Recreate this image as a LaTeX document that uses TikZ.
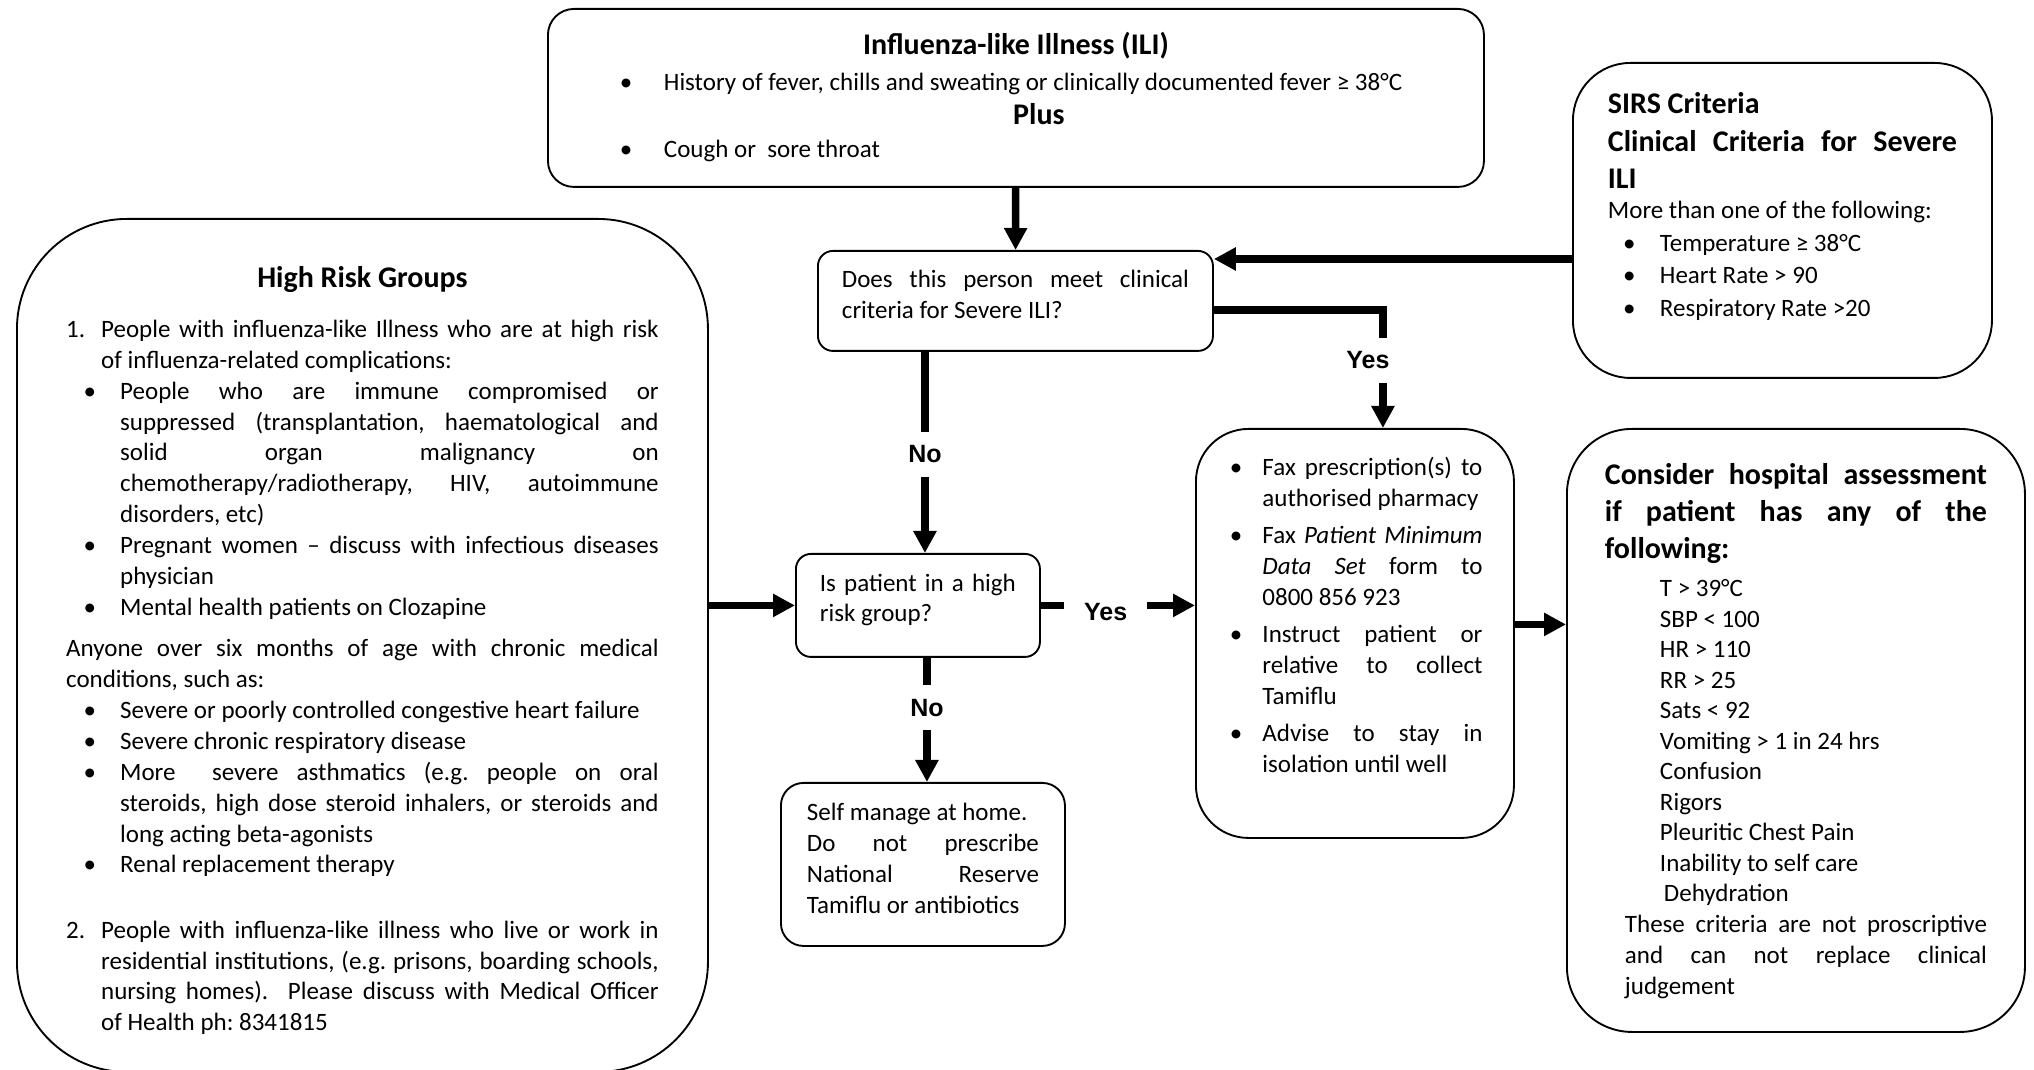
\documentclass[tikz,border=0pt]{standalone}
\usepackage{fontspec}
\setmainfont{Carlito}
\newfontfamily\answerfont{Liberation Sans}
\usetikzlibrary{positioning, arrows.meta}
\setlength{\parskip}{0pt}
\hyphenpenalty=10000
\exhyphenpenalty=10000
\tolerance=10000
\frenchspacing

% bullet list: #1 = text indent, #2 = bullet to text
\newenvironment{dotlist}[2]{%
\begin{list}{\textbullet}{\setlength{\leftmargin}{#1}\setlength{\labelsep}{#2}%
\setlength{\labelwidth}{0pt}\setlength{\itemindent}{0pt}\setlength{\itemsep}{0pt}%
\setlength{\parsep}{0pt}\setlength{\topsep}{0pt}\setlength{\partopsep}{0pt}%
\renewcommand{\makelabel}[1]{\makebox[0pt][l]{##1}}}}%
{\end{list}}
\newcommand{\boxtext}[3]{\parbox[c][#2][t]{#1}{#3}} % text block inside a box
\newcommand{\headfont}{\bfseries\fontsize{12}{14.8}\selectfont}

\tikzset{x=0.4pt, y=-0.4pt, % one unit is one pixel of the sketch
flowbox/.style={ % rounded boxes
draw, line width=0.75pt, inner sep=0pt, anchor=north west,
font=\fontsize{10}{12.2}\selectfont},
flowarrow/.style={ % thick connectors with solid heads
line width=3pt, -{Triangle[width=8.8pt, length=8.8pt]}},
answer/.style={ % Yes / No on the connectors
fill=white, inner xsep=8pt, inner ysep=5.6pt,
font=\answerfont\bfseries\fontsize{10}{12}\selectfont}}

\begin{document}
\begin{tikzpicture}
    \useasboundingbox (0,0) rectangle (2034,1070);

    \node[flowbox, rounded corners=10.4pt, minimum width=374.4pt, minimum height=71.2pt] (ili) at (547,8) {\boxtext{326.4pt}{55.2pt}{%
        {\centering\headfont\rule{0pt}{10.4pt}Influenza-like Illness (ILI)\par}
        {\fontsize{10}{14.4}\selectfont\begin{dotlist}{22.4pt}{17.6pt}
        \item History of fever, chills and sweating or clinically documented fever ≥ 38°C
        \end{dotlist}}
        {\centering\bfseries\fontsize{12}{13.6}\selectfont\hspace*{18.4pt}Plus\par}
        {\fontsize{10}{13.2}\selectfont\begin{dotlist}{22.4pt}{17.6pt}
        \item Cough or\ \ sore throat
        \end{dotlist}}}};

    \node[flowbox, rounded corners=23pt, minimum width=167.6pt, minimum height=126pt] (sirs) at (1572,62) {\boxtext{139.6pt}{110pt}{%
        {\bfseries\fontsize{12}{15}\selectfont\rule{0pt}{12.4pt}SIRS Criteria\par Clinical Criteria for Severe\linebreak ILI\par}
        {\fontsize{10}{12}\selectfont More than one of the following:\par}
        {\fontsize{10}{13}\selectfont\begin{dotlist}{20.8pt}{14.7pt}
        \item Temperature ≥ 38°C
        \item Heart Rate > 90
        \item Respiratory Rate >20
        \end{dotlist}}}};

    \node[flowbox, rounded corners=44pt, minimum width=276.4pt, minimum height=341.2pt] (high) at (16,218) {\boxtext{237pt}{325.2pt}{%
        \fontsize{10}{12.35}\selectfont
        {\centering\headfont\rule{0pt}{19.6pt}High Risk Groups\par}
        \vspace{7.45pt}
        \begin{dotlist}{14pt}{14pt}
        \item[1.] People with influenza-like Illness who are at high risk\linebreak of influenza-related complications:
        \end{dotlist}
        \begin{dotlist}{21.6pt}{14.6pt}
        \item People who are immune compromised or\linebreak suppressed (transplantation, haematological and\linebreak solid organ malignancy on\linebreak chemotherapy/radiotherapy, HIV, autoimmune\linebreak disorders, etc)
        \item Pregnant women – discuss with infectious diseases\linebreak physician
        \item Mental health patients on Clozapine
        \end{dotlist}
        \vspace{4.25pt}
        Anyone over six months of age with chronic medical\linebreak conditions, such as:\par
        \begin{dotlist}{21.6pt}{14.6pt}
        \item Severe or poorly controlled congestive heart failure
        \item Severe chronic respiratory disease
        \item More\ \ severe asthmatics (e.g. people on oral\linebreak steroids, high dose steroid inhalers, or steroids and\linebreak long acting beta-agonists
        \item Renal replacement therapy
        \end{dotlist}
        \vspace{13.75pt}
        \begin{dotlist}{14pt}{14pt}
        \item[2.] People with influenza-like illness who live or work in\linebreak residential institutions, (e.g. prisons, boarding schools,\linebreak nursing homes).\ \ Please discuss with Medical Officer\linebreak of Health ph: 8341815
        \end{dotlist}}};

    \node[flowbox, rounded corners=6pt, minimum width=158pt, minimum height=40pt] (dec1) at (817,250) {\boxtext{138.8pt}{32pt}{%
        \fontsize{10}{12.4}\selectfont
        \rule{0pt}{10.8pt}Does this person meet clinical\linebreak criteria for Severe ILI?}};

    \node[flowbox, rounded corners=6pt, minimum width=97.6pt, minimum height=41.2pt] (dec2) at (795,553) {\boxtext{78.4pt}{33.2pt}{%
        \fontsize{10}{12}\selectfont
        \rule{0pt}{11.2pt}Is patient in a high\linebreak risk group?}};

    \node[flowbox, rounded corners=9pt, minimum width=113.6pt, minimum height=65.2pt] (self) at (780,782) {\boxtext{92.8pt}{57.2pt}{%
        \fontsize{10}{12.3}\selectfont
        \rule{0pt}{11.2pt}Self manage at home.\par
        Do not prescribe\linebreak National Reserve\linebreak Tamiflu or antibiotics}};

    \node[flowbox, rounded corners=21pt, minimum width=127.2pt, minimum height=163.6pt] (fax) at (1195,428) {\boxtext{102pt}{147.6pt}{%
        \fontsize{10}{12.4}\selectfont
        \begin{dotlist}{14pt}{13pt}\setlength{\itemsep}{2.4pt}
        \item\rule{0pt}{10.8pt}Fax prescription(s) to\linebreak authorised pharmacy
        \item Fax \textit{Patient Minimum}\linebreak \textit{Data Set} form to\linebreak 0800 856 923
        \item Instruct patient or\linebreak relative to collect\linebreak Tamiflu
        \item Advise to stay in\linebreak isolation until well
        \end{dotlist}}};

    \node[flowbox, rounded corners=26pt, minimum width=183.2pt, minimum height=241.2pt] (cons) at (1566,428) {\boxtext{152.8pt}{225.2pt}{%
        {\headfont\rule{0pt}{14.4pt}Consider hospital assessment\linebreak if patient has any of the\linebreak following:\par}
        {\leftskip=22pt \fontsize{10}{12.2}\selectfont \vspace{3pt}
        T > 39°C\par SBP < 100\par HR > 110\par RR > 25\par Sats < 92\par
        Vomiting > 1 in 24 hrs\par Confusion\par Rigors\par Pleuritic Chest Pain\par
        Inability to self care\par \hspace*{1.6pt}Dehydration\par}
        {\leftskip=8pt \fontsize{10}{12.4}\selectfont
        These criteria are not proscriptive\linebreak and can not replace clinical\linebreak judgement\par}}};

    % connector ends off the node centres
    \coordinate (sirsin) at ([yshift=-3.6pt]dec1.north east);
    \coordinate (yesout) at ([yshift=-3.6pt]dec1.east);
    \coordinate (faxin) at ([xshift=11.2pt]fax.north);
    \coordinate (noin) at ([xshift=2.8pt]dec2.north);
    \coordinate (selfin) at ([xshift=1.6pt]self.north);
    \coordinate (faxout) at ([yshift=3.6pt]fax.east);

    \draw (ili) edge[flowarrow] (dec1);
    \draw[flowarrow] (sirs.west |- sirsin) -- (sirsin);
    \draw[flowarrow] (yesout) -| node[answer, pos=0.714, xshift=-6pt] {Yes} (faxin);
    \draw[flowarrow] (noin |- dec1.south) -- node[answer, pos=0.51] {No} (noin);
    \draw[flowarrow] (high.east |- dec2.west) -- (dec2.west);
    \draw[flowarrow] (dec2.east) -- node[answer, pos=0.42, yshift=-2.8pt] {Yes} (dec2.east -| fax.west);
    \draw[flowarrow] (selfin |- dec2.south) -- node[answer, pos=0.4] {No} (selfin);
    \draw[flowarrow] (faxout) -- (faxout -| cons.west);

\end{tikzpicture}
\end{document}
